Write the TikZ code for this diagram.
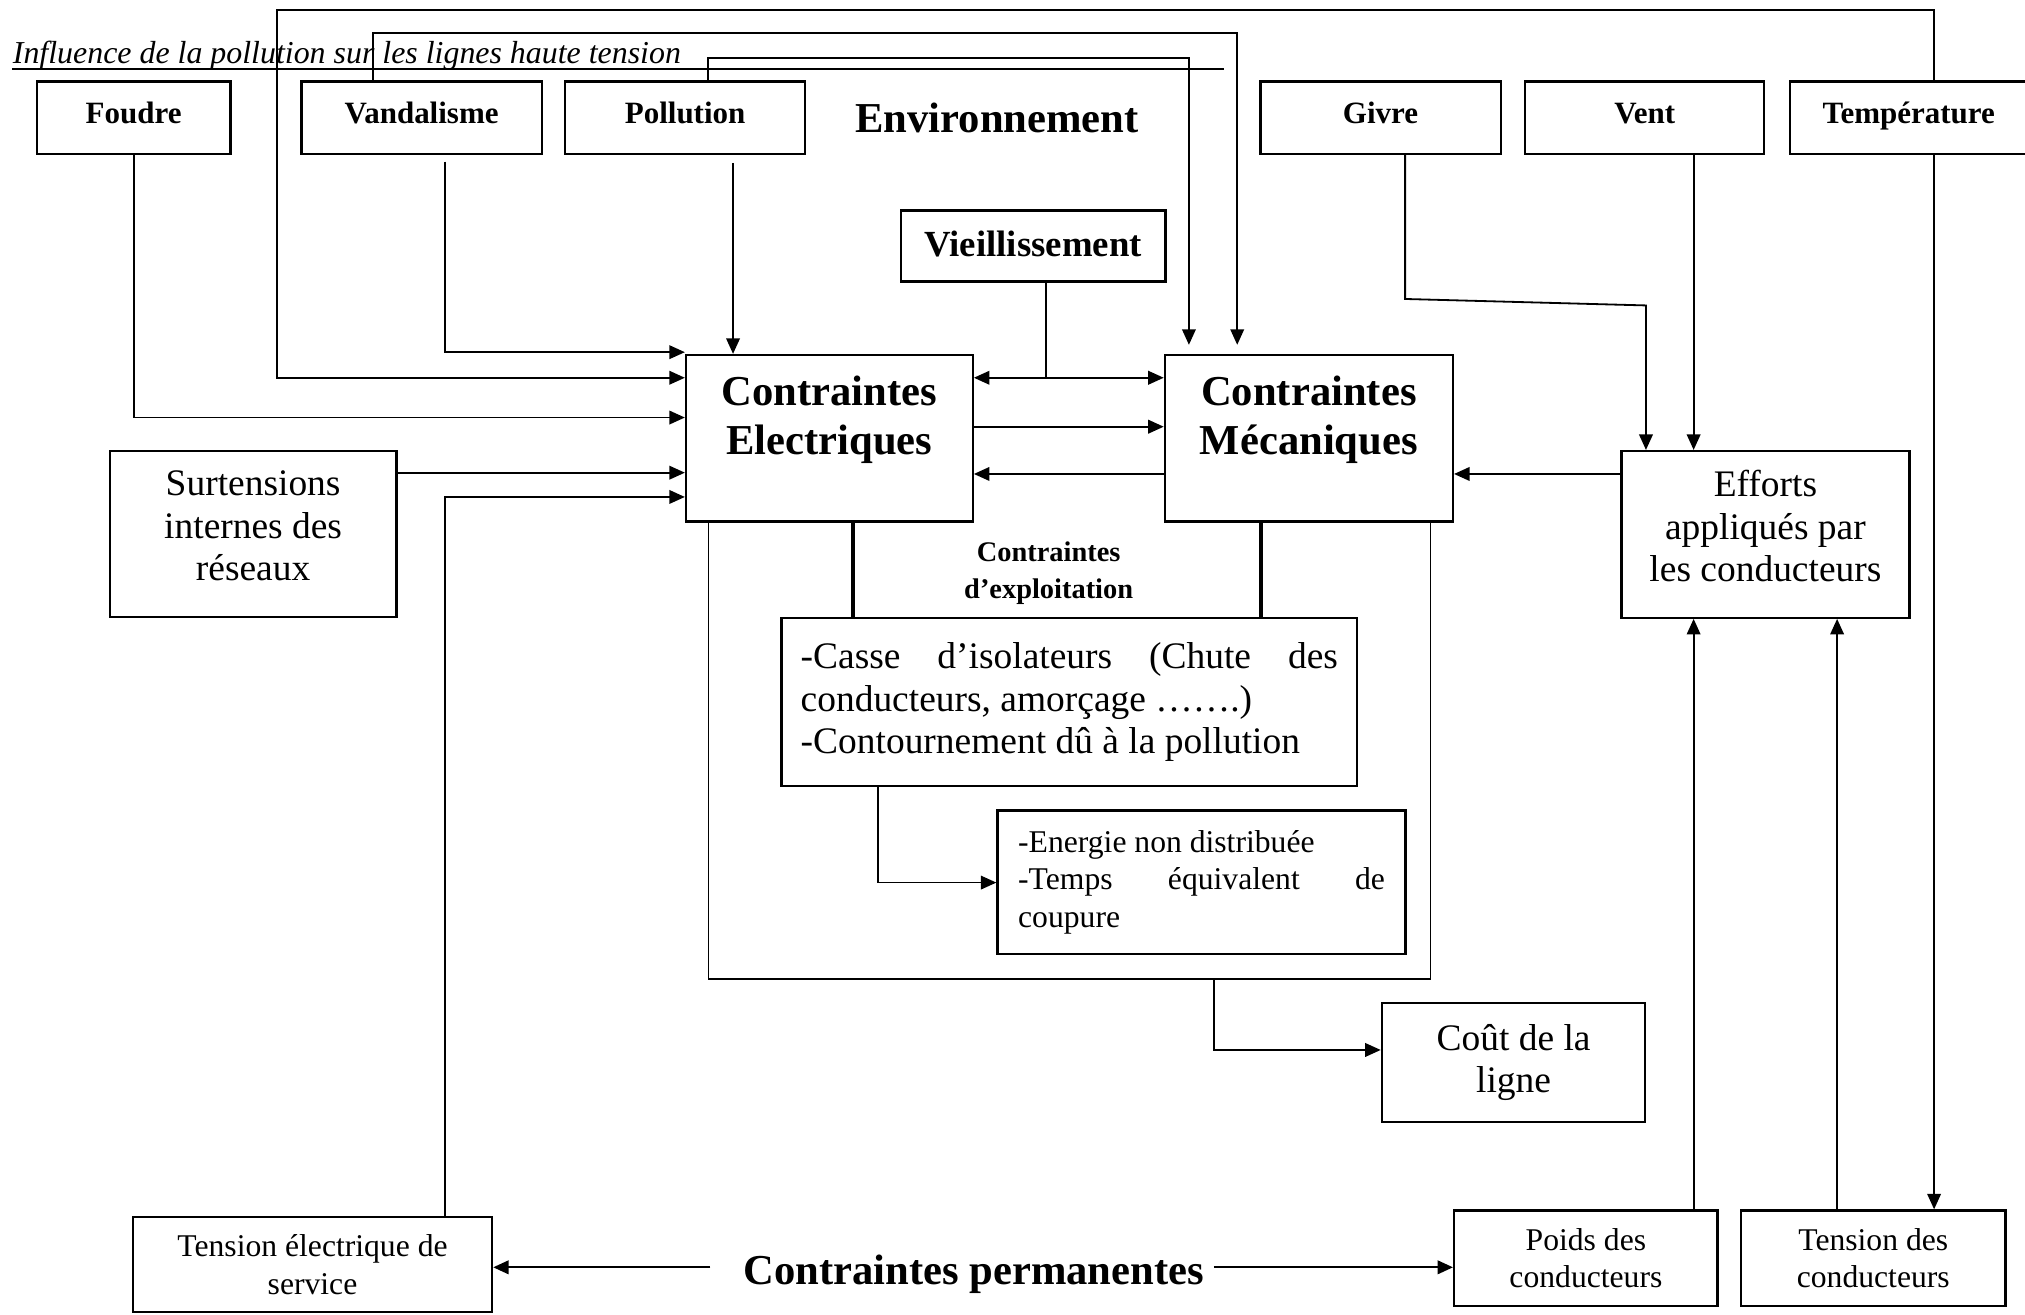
\documentclass[tikz,border=0pt]{standalone}
\usepackage{fontspec}
\setmainfont{Liberation Serif}
\usepackage{tikz}
\usetikzlibrary{%
  arrows.meta,% Triangle tips
  positioning%
}

\begin{document}
\begin{tikzpicture}
[x=1pt, y=-1pt, line width=1.4pt, >={Triangle[length=12pt,width=10.5pt]},
factorbox/.style={rectangle, draw, line width=1.8pt, minimum height=56pt, text height=17pt, text depth=8.4pt, font=\bfseries\fontsize{24}{28}\selectfont},
stressbox/.style={rectangle, draw, line width=1.8pt, minimum width=222pt, minimum height=129pt, align=center, text depth=36pt, font=\bfseries\fontsize{33}{38}\selectfont},
effectbox/.style={rectangle, draw, line width=1.8pt, align=center, font=\fontsize{29}{33}\selectfont},
notebox/.style={rectangle, draw, line width=1.8pt, align=center, font=\fontsize{24.5}{29}\selectfont},
headtext/.style={inner sep=0pt, font=\bfseries\fontsize{33}{38}\selectfont}]

\useasboundingbox (0,0) rectangle (1568,1017.5);

\node[anchor=base west, inner sep=0pt, font=\itshape\fontsize{24.7}{29}\selectfont] (title) at (9.3,49) {Influence de la pollution sur les lignes haute tension};
\draw[line width=1.8pt] (title.base west |- 0,53.4) -- (948,53.4);

\node[factorbox, minimum width=150pt] (foudre) at (103.5,91.2) {Foudre};
\node[factorbox, minimum width=186pt] (vandal) at (326.5,91.2) {Vandalisme};
\node[factorbox, minimum width=186pt] (pollu) at (530.5,91.2) {Pollution};
\node[headtext] (envir) at (772,91.5) {Environnement};
\node[factorbox, minimum width=186pt] (givre) at (1069,91.2) {Givre};
\node[factorbox, minimum width=185pt] (vent) at (1273.5,91.2) {Vent};
\node[factorbox, minimum width=184pt] (temp) at (1478,91.2) {Température};
\node[factorbox, minimum width=205pt, minimum height=55pt, text height=20pt, text depth=3.6pt, font=\bfseries\fontsize{28.5}{33}\selectfont] (vieil) at (800,190.5) {Vieillissement};

\node[stressbox] (elec) at (642.2,339.4) {Contraintes\\Electriques};
\node[stressbox, minimum width=223pt] (meca) at (1013.5,339.4) {Contraintes\\Mécaniques};
\node[effectbox, minimum width=222pt, minimum height=129pt, text depth=13pt] (surt) at (196,413.5) {Surtensions\\internes des\\réseaux};
\node[effectbox, minimum width=223pt, minimum height=129pt, text depth=13pt] (effort) at (1367,413.8) {Efforts\\appliqués par\\les conducteurs};

\node[align=center, font=\bfseries\fontsize{22}{29}\selectfont] (exptitle) at (812,444) {Contraintes\\d’exploitation};
\node[effectbox, text width=416pt, align=justify, inner xsep=15pt, minimum height=130pt] (exploit) at (828,543.7)
  {-Casse d’isolateurs (Chute des\linebreak conducteurs, amorçage …….)\\-Contournement dû à la pollution};
\node[notebox, text width=284pt, align=justify, inner xsep=16pt, minimum height=111pt] (energie) at (930.4,683.2)
  {-Energie non distribuée\\-Temps équivalent de\linebreak coupure};
\node[effectbox, minimum width=204pt, minimum height=92pt] (cout) at (1172,822.6) {Coût de la\\ligne};

\node[notebox, minimum width=278pt, minimum height=73.5pt] (tensserv) at (242,979.3) {Tension électrique de\\service};
\node[headtext] (perm) at (754,987) {Contraintes permanentes};
\node[notebox, minimum width=204pt, minimum height=74pt] (poids) at (1228,974.3) {Poids des\\conducteurs};
\node[notebox, minimum width=205pt, minimum height=74pt] (tenscond) at (1450.5,974.3) {Tension des\\conducteurs};

\draw[->] (foudre.south) |- (elec.west |- 0,323.3);
\draw[->, shorten <=5pt] (vandal.south -| 344.5,0) |- ([yshift=1.3pt]elec.north west);
\draw[->] (temp.north -| 1497.6,0) |- (214.2,7.7) |- (elec.west |- 0,292.5);
\draw[->] (surt.east |- 0,366) -- (elec.west |- 0,366);
\draw[->] (tensserv.north -| 344.5,0) |- (elec.west |- 0,384.8);
\draw[->, shorten <=6pt] (pollu.south -| 567.6,0) -- (elec.north -| 567.6,0);
\draw[->, shorten >=7pt] (vandal.north -| 289,0) |- (958,25.8) -- (meca.north -| 958,0);
\draw[->, shorten >=7pt] (pollu.north -| 548.2,0) |- (920.6,45.2) -- (meca.north -| 920.6,0);

\coordinate (vjoin) at (809.7,292.5);
\draw (vieil.south -| vjoin) -- (vjoin);
\draw[<->] (elec.east |- vjoin) -- (meca.west |- vjoin);
\draw[->] (elec.east |- 0,330.4) -- (meca.west |- 0,330.4);
\draw[->] (meca.west |- 0,367) -- (elec.east |- 0,367);
\draw[->] (effort.west |- 0,367) -- (meca.east |- 0,367);

\draw[->] (givre.south -| 1088,0) -- (1088,231.5) -- (1274.5,236.5) -- (effort.north -| 1274.5,0);
\draw[->] (vent.south -| 1311.4,0) -- (effort.north -| 1311.4,0);
\draw[->] (temp.south -| 1497.6,0) -- (tenscond.north -| 1497.6,0);
\draw[->] (poids.north -| 1311.4,0) -- (effort.south -| 1311.4,0);
\draw[->] (tenscond.north -| 1422.5,0) -- (effort.south -| 1422.5,0);

\coordinate (framecorner) at (1107.6,758);
\draw (elec.south -| 548.6,0) |- (framecorner) -- (meca.south -| framecorner);
\draw[->] (940.3,758) |- (cout.west |- 0,813);
\draw[line width=3.5pt] (elec.south -| 660.5,0) -- (exploit.north -| 660.5,0);
\draw[line width=3.5pt] (meca.south -| 976.3,0) -- (exploit.north -| 976.3,0);
\draw[->] (exploit.south -| 679.8,0) |- (energie.west |- 0,683.4);

\coordinate (permL) at (550,981.3);
\coordinate (permR) at (940,981.3);
\draw[->, line width=1.8pt] (permL) -- (tensserv.east |- permL);
\draw[->, line width=1.8pt] (permR) -- (poids.west |- permR);
\end{tikzpicture}
\end{document}
